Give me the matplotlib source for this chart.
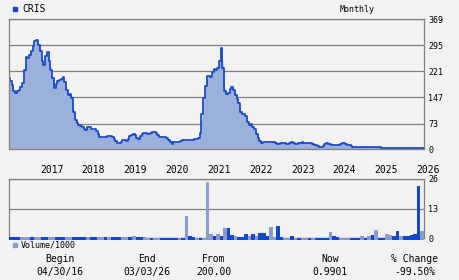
import numpy as np
import matplotlib
matplotlib.use("Agg")
import matplotlib.pyplot as plt

# price, sampled twice a month from 04/30/16 to 03/03/26
price = [202, 193, 182, 166, 161, 165, 169, 176, 188, 225,
         262, 260, 268, 280, 294, 306, 309, 296, 278, 250,
         238, 265, 276, 251, 225, 202, 174, 186, 194, 197,
         200, 205, 190, 168, 153, 158, 146, 107, 82, 75,
         70, 66, 62, 57, 54, 63, 64, 56, 56, 57,
         52, 44, 36, 34, 34, 36, 38, 38, 37, 36,
         30, 22, 19, 17, 21, 25, 25, 23, 28, 37,
         40, 42, 40, 33, 30, 38, 43, 47, 47, 43,
         44, 47, 48, 48, 47, 40, 36, 36, 35, 35,
         31, 27, 20, 16, 20, 21, 20, 20, 23, 27,
         26, 26, 25, 25, 26, 27, 28, 29, 31, 45,
         100, 145, 180, 208, 207, 205, 220, 229, 225, 230,
         250, 288, 230, 166, 156, 160, 170, 177, 168, 155,
         142, 131, 105, 100, 99, 94, 76, 69, 71, 64,
         56, 43, 32, 23, 18, 20, 21, 21, 21, 21,
         21, 20, 18, 16, 16, 17, 18, 17, 15, 14,
         17, 20, 18, 16, 15, 17, 19, 20, 19, 19,
         19, 18, 17, 15, 13, 11, 9, 7, 5, 10,
         15, 18, 16, 14, 13, 13, 13, 13, 13, 14,
         17, 17, 15, 13, 11, 9, 7, 7, 7, 7,
         7, 7, 7, 7, 7, 7, 7, 7, 7, 7,
         7, 7] + [4] * 25

# monthly volume / 1000 and month direction (1 = up month, light bar)
volume = [0.4] * 35 + [1.0, 0.4, 0.4, 0.4] + [
    0.3, 0.3, 0.3, 0.3, 0.3, 0.3, 0.3, 0.3, 0.3, 0.3,
    0.2, 9.8, 1.0, 0.6, 0.3, 0.3, 0.3, 24.8, 1.9, 1.0,
    1.9, 1.0, 4.7, 4.7, 1.5, 1.0, 0.6, 0.6, 1.9, 1.0,
    1.9, 1.0, 2.3, 2.3, 1.0, 5.0, 0.6, 5.4, 0.6, 0.3,
    0.3, 1.0, 0.3, 0.2, 0.3, 0.2, 0.2, 0.2, 0.3, 0.3,
    0.3, 0.3, 2.8, 1.0, 0.6, 0.3, 0.2, 0.3, 0.3, 0.3,
    0.3, 1.0, 0.3, 1.0, 1.5, 3.6, 0.3, 0.3, 1.9, 1.5,
    1.0, 3.2, 1.0, 1.0, 1.0, 1.5, 1.9, 23.0, 3.2]
up_month = [0, 0, 0, 1, 1, 1, 0, 1, 1, 0, 0, 1, 1, 0, 0, 0, 1, 1, 0, 0,
            0, 0, 1, 0, 0, 1, 1, 0, 1, 0, 0, 0, 1, 1, 0, 1, 0, 0, 1] + [
    1, 0, 1, 1, 0, 0, 0, 0, 0, 1,
    0, 1, 0, 0, 1, 0, 1, 1, 1, 0,
    1, 0, 1, 0, 0, 1, 0, 0, 0, 1,
    0, 1, 0, 0, 0, 1, 1, 0, 0, 1,
    1, 0, 1, 0, 1, 1, 0, 1, 0, 0,
    0, 0, 1, 0, 0, 1, 1, 1, 0, 0,
    0, 1, 0, 1, 0, 1, 0, 0, 1, 1,
    0, 0, 1, 0, 0, 0, 0, 0, 1]

years = ["2017", "2018", "2019", "2020", "2021", "2022", "2023", "2024", "2025", "2026"]
price_ticks = [0, 73, 147, 221, 295, 369]
vol_ticks = [0, 13, 26]

ticker = "CRIS"
begin, end, frm, now, change = "04/30/16", "03/03/26", "200.00", "0.9901", "-99.50%"

BG = "#f2f2f2"
GRID = "#808080"
LINE = "#1448c8"
FILL = "#9cb0dc"
LIGHT = "#8a9cca"
W, H = 460, 280
MONO = "DejaVu Sans Mono"

fig = plt.figure(figsize=(W / 100, H / 100), dpi=100)
fig.patch.set_facecolor(BG)


def box(l, t, r, b):
    return [l / W, 1 - b / H, (r - l) / W, (b - t) / H]


def ftext(x, y, s, **kw):
    fig.text(x / W, 1 - y / H, s, family=MONO, **kw)


# price panel
ax = fig.add_axes(box(9, 19.3, 424, 149.2))
ax.set_facecolor(BG)
xp = np.arange(len(price))
ax.fill_between(xp, 0, price, color=FILL, lw=0)
ax.plot(xp, price, color=LINE, lw=1.25, drawstyle="steps-mid")
ax.set_xlim(0, 236.2)
ax.set_ylim(0, 369)
ax.set_yticks(price_ticks)
ax.set_yticklabels([str(t) for t in price_ticks], family=MONO, fontsize=6)
ax.yaxis.tick_right()
ax.tick_params(axis="y", length=0, pad=3)
ax.set_xticks([])
ax.grid(axis="y", color=GRID, lw=0.9)
ax.set_axisbelow(True)
for s in ax.spines.values():
    s.set_color(GRID)
    s.set_linewidth(0.9)
for k, yr in enumerate(years):
    ax.text(24.3 + 23.8 * k, -0.16, yr, transform=ax.get_xaxis_transform(),
            ha="center", va="center", family=MONO, fontsize=7, clip_on=False)

# volume panel
av = fig.add_axes(box(9, 179, 424, 238.3))
av.set_facecolor(BG)
xv = 2 * np.arange(len(volume)) + 1
colors = [LIGHT if u else LINE for u in up_month]
vol = np.array(volume)
# small bars sit over the baseline as a thin strip, as in the source chart
av.bar(xv, vol + 0.7, bottom=-0.7, width=2.0, color=colors, lw=0,
       zorder=3, clip_on=False)
av.set_xlim(0, 236.2)
av.set_ylim(0, 26)
av.set_yticks(vol_ticks)
av.set_yticklabels([str(t) for t in vol_ticks], family=MONO, fontsize=6)
av.yaxis.tick_right()
av.tick_params(axis="y", length=0, pad=3)
av.set_xticks([])
av.grid(axis="y", color=GRID, lw=0.9)
av.set_axisbelow(True)
for s in av.spines.values():
    s.set_color(GRID)
    s.set_linewidth(0.9)

# header
fig.patches.append(plt.Rectangle((13.3 / W, 1 - 11 / H), 4 / W, 4.3 / H,
                                 color=LINE, transform=fig.transFigure))
ftext(22.5, 9, ticker, fontsize=7, va="center")
ftext(357, 9.3, "Monthly", fontsize=6, ha="center", va="center")

# volume legend
fig.patches.append(plt.Rectangle((13.3 / W, 1 - 247.3 / H), 4 / W, 4 / H,
                                 color=LIGHT, transform=fig.transFigure))
ftext(20.5, 245, "Volume/1000", fontsize=6, va="center")

# footer
for cx, lab, val in [(60, "Begin", begin), (147, "End", end), (213.5, "From", frm),
                     (330, "Now", now), (414.5, "% Change", change)]:
    ftext(cx, 259.3, lab, fontsize=7, ha="center", va="center")
    ftext(cx, 272.3, val, fontsize=7, ha="center", va="center")

fig.savefig("out.png", dpi=100, facecolor=BG)
